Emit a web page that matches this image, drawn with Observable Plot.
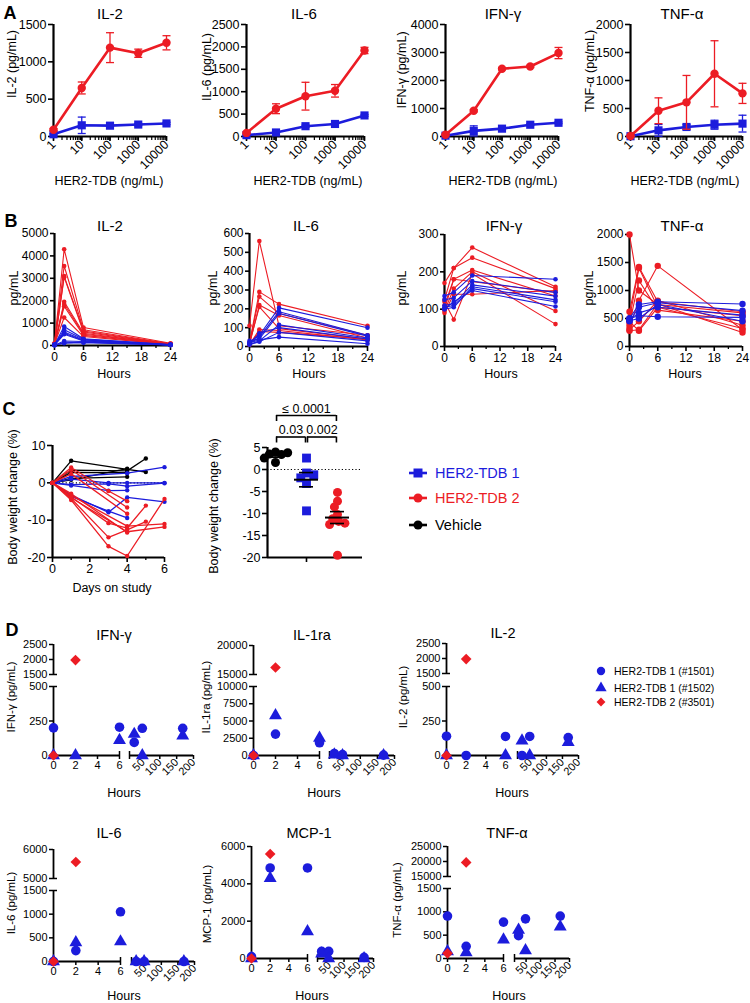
<!DOCTYPE html>
<html><head><meta charset="utf-8">
<script src="https://cdn.jsdelivr.net/npm/d3@7"></script>
<script src="https://cdn.jsdelivr.net/npm/@observablehq/plot@0.6"></script>
<style>
body{margin:0;background:#fff;}
#fig{position:relative;width:750px;height:1003px;overflow:hidden;background:#fff;font-family:"Liberation Sans",Arial,Helvetica,sans-serif;color:#000;}
#fig svg{position:absolute;overflow:visible;max-width:none;}
.t{position:absolute;white-space:nowrap;line-height:1;}
</style></head><body><div id="fig"></div><script>
const RED = "#ec1c24", BLUE = "#1c1cdc", BLACK = "#000000";
const FONT = '"Liberation Sans", Arial, Helvetica, sans-serif';
const fmt = d => String(d);
const noLabel = () => "";

// ---------------- Panel A data ----------------
const aDoses = [1, 10, 100, 1000, 10000];
const aDoseTicks = [1, 10, 100, 1000, 10000];
const aIL2Tdb2 = [90, 650, 1190, 1115, 1255];
const aIL2Tdb2Err = [15, 80, 200, 55, 95];
const aIL2Tdb1 = [30, 150, 145, 160, 175];
const aIL2Tdb1Err = [10, 110, 15, 15, 15];
const aIL6Tdb2 = [80, 620, 900, 1020, 1920];
const aIL6Tdb2Err = [15, 110, 310, 140, 70];
const aIL6Tdb1 = [30, 90, 230, 280, 470];
const aIL6Tdb1Err = [10, 20, 25, 20, 20];
const aIFNTdb2 = [60, 920, 2420, 2500, 2980];
const aIFNTdb2Err = [20, 40, 40, 40, 200];
const aIFNTdb1 = [30, 200, 280, 420, 490];
const aIFNTdb1Err = [10, 180, 30, 30, 30];
const aTNFTdb2 = [10, 460, 610, 1120, 770];
const aTNFTdb2Err = [5, 230, 480, 590, 180];
const aTNFTdb1 = [5, 110, 170, 210, 230];
const aTNFTdb1Err = [3, 105, 40, 80, 150];
const aIL2Ticks = [0, 500, 1000, 1500];
const aIL6Ticks = [0, 500, 1000, 1500, 2000, 2500];
const aIFNTicks = [0, 1000, 2000, 3000, 4000];
const aTNFTicks = [0, 500, 1000, 1500, 2000];

// ---------------- Panel B data ----------------
const bTimes = [0, 2, 6, 24];
const bTicks = [0, 6, 12, 18, 24];
const bMinorTicks = [3, 9, 15, 21];
const bIL2Red = [[100,4300,800,100],[80,3550,700,80],[60,3100,650,60],[50,3050,600,50],[40,1950,550,40],[70,1850,500,60],[30,1750,450,50],[60,1250,400,40]];
const bIL2Blue = [[30,850,300,40],[20,700,280,30],[40,600,250,30],[30,550,220,20],[20,500,200,30],[10,200,180,20],[20,120,150,30],[10,100,120,20]];
const bIL6Red = [[110,560,110,60],[20,290,225,110],[15,265,175,60],[10,220,165,45],[20,210,95,40],[10,90,85,35],[10,80,75,40]];
const bIL6Blue = [[20,60,205,100],[15,50,185,60],[30,40,175,55],[10,30,115,45],[15,70,100,40],[10,25,75,30],[20,35,50,15]];
const bIFNRed = [[170,210,265,160],[125,210,238,155],[100,180,205,135],[95,155,200,95],[120,72,195,60],[90,140,140,150],[110,180,null,145]];
const bIFNBlue = [[135,145,190,180],[125,130,175,145],[110,115,165,135],[100,105,160,125],[105,110,155,120],[100,120,150,107]];
const bTNFRed = [[2000,1000,750,600],[620,1420,800,620],[500,1400,700,550],[400,1180,650,450],[350,820,1440,300],[300,450,820,380],[280,300,760,250],[450,280,700,320]];
const bTNFBlue = [[500,750,800,760],[450,700,780,640],[480,600,700,560],[500,550,530,520],[460,500,750,450]];

// ---------------- Panel C data ----------------
const cDayTicks = [0, 2, 4, 6];
const cDayMinor = [1, 3, 5];
const cLeftYTicks = [-20, -10, 0, 10];
const cVehicleLines = [
  [[0,0],[1,5.9],[4,3.6],[5,2.9]],
  [[0,0],[1,3.4],[4,3.2],[5,6.5]],
  [[0,0],[1,2.8],[4,2.7]],
  [[0,0],[1,0.8],[4,3.8]],
  [[0,0],[1,1.2],[4,1.6]]
];
const cTdb1Lines = [
  [[0,0],[1,1.7],[4,2.6],[6,4.2]],
  [[0,0],[1,1.0],[3,0],[4,0],[6,0]],
  [[0,0],[1,-0.5],[3,-0.3],[4,-0.9],[6,-0.1]],
  [[0,0],[1,-0.7],[3,-2.1],[4,-2.0]],
  [[0,0],[1,-3.3],[3,-7.9],[4,-3.9],[6,-5.1]],
  [[0,0],[1,-3.6],[3,-7.6],[4,-9.4]]
];
const cTdb2Lines = [
  [[0,0],[1,4.1],[3,-2.2],[4,-4.9]],
  [[0,0],[1,3.5],[4,-6.6]],
  [[0,0],[1,2.4],[4,-8.3]],
  [[0,0],[1,-3.8],[3,-10.8],[4,-12.1],[5,-6.1]],
  [[0,0],[1,-4.2],[3,-14.6],[4,-12.6],[5,-10.4]],
  [[0,0],[1,-4.6],[3,-17.0],[4,-19.6],[6,-4.3]],
  [[0,0],[1,-3.4],[4,-11.6],[6,-11.0]],
  [[0,0],[1,-4.0],[4,-13.1],[6,-11.8]],
  [[0,0],[1,-2.9],[4,-13.3]]
];
const cGroups = ["Vehicle", "HER2-TDB 1", "HER2-TDB 2"];
const cVehicleBW = [4.0, 3.5, 3.4, 3.8, 1.6, 2.6];
const cTdb1BW = [2.6, -0.8, -1.9, -1.2, -3.2, -9.4];
const cTdb2BW = [-5.2, -7.2, -8.5, -10.2, -11.2, -11.8, -12.2, -12.5, -19.5];
const cRightYTicks = [-20, -15, -10, -5, 0, 5];
const cBrackets = [
  {a: "Vehicle", b: "HER2-TDB 2", label: "\u2264 0.0001", level: 2},
  {a: "Vehicle", b: "HER2-TDB 1", label: "0.03", level: 1},
  {a: "HER2-TDB 1", b: "HER2-TDB 2", label: "0.002", level: 1}
];
const cLegend = ["HER2-TDB 1", "HER2-TDB 2", "Vehicle"];

// ---------------- Panel D data ----------------
const dTimes = [0, 2, 6, 24, 48, 168];
const dSeries = ["HER2-TDB 1 (#1501)", "HER2-TDB 1 (#1502)", "HER2-TDB 2 (#3501)"];
const dLeftTicks = [0, 2, 4, 6];
const dRightTicks = [50, 100, 150, 200];
const dIFN1501 = [200, null, 205, 95, 197, 197];
const dIFN1502 = [0, 0, 110, 155, 0, 143];
const dIFN3501 = [0, 1980, null, null, null, null];
const dIL1ra1501 = [0, 3100, 1850, 300, 120, 60];
const dIL1ra1502 = [0, 5800, 2550, 100, 0, 0];
const dIL1ra3501 = [0, 16200, null, null, null, null];
const dIL21501 = [140, 0, 138, 0, 138, 130];
const dIL21502 = [0, null, 0, 107, 0, 95];
const dIL23501 = [0, 1980, null, null, null, null];
const dIL61501 = [0, 230, 1050, 0, 0, 0];
const dIL61502 = [0, 400, 420, 0, 0, 0];
const dIL63501 = [0, 5570, null, null, null, null];
const dMCP1501 = [100, 4850, 4850, 380, 380, 60];
const dMCP1502 = [0, 4300, 1450, 250, 0, 0];
const dMCP3501 = [0, 5600, null, null, null, null];
const dTNF1501 = [910, 260, 780, 490, 850, 910];
const dTNF1502 = [150, 130, 400, 610, 170, 680];
const dTNF3501 = [110, 19700, null, null, null, null];

// ---------------- helpers ----------------
const fig = document.getElementById("fig");
function txt(s, x, y, o = {}) {
  const d = document.createElement("div");
  d.className = "t";
  d.textContent = s;
  d.style.left = x + "px"; d.style.top = y + "px";
  d.style.fontSize = (o.size || 12) + "px";
  if (o.weight) d.style.fontWeight = o.weight;
  if (o.color) d.style.color = o.color;
  const tx = o.anchor === "start" ? "0" : "-50%";
  d.style.transform = `translate(${tx},-50%)` + (o.rotate ? ` rotate(${o.rotate}deg)` : "");
  fig.appendChild(d);
}
function place(opts, fr, m, fs = 12) {
  const [x0, x1, y0, y1] = fr;
  const [mt, mr, mb, ml] = m;
  const el = Plot.plot({
    ...opts,
    marks: opts.marks.filter(Boolean),
    width: ml + (x1 - x0) + mr,
    height: mt + (y1 - y0) + mb,
    marginTop: mt, marginRight: mr, marginBottom: mb, marginLeft: ml,
    style: {fontFamily: FONT, fontSize: fs + "px", color: "#000", overflow: "visible", background: "none"}
  });
  el.style.position = "absolute";
  el.style.left = (x0 - ml) + "px";
  el.style.top = (y0 - mt) + "px";
  fig.appendChild(el);
  return el;
}
const capSymbol = {draw(ctx, size) { const w = Math.sqrt(size / Math.PI); ctx.moveTo(-w, 0); ctx.lineTo(w, 0); }};

// ---------------- Panel A ----------------
function panelA(sp) {
  const mk = (vals, errs) => aDoses.map((d, i) => ({dose: d, v: vals[i], lo: vals[i] - errs[i], hi: vals[i] + errs[i]}));
  const R = mk(sp.red, sp.redErr), B = mk(sp.blue, sp.blueErr);
  const minor = d3.scaleLog().domain([1, 10000]).ticks();
  const series = (D, color, symbol, r) => [
    Plot.ruleX(D, {x: "dose", y1: "lo", y2: "hi", stroke: color, strokeWidth: 1.3}),
    Plot.dot(D, {x: "dose", y: "lo", symbol: capSymbol, r: 4, stroke: color, fill: "none", strokeWidth: 1.3}),
    Plot.dot(D, {x: "dose", y: "hi", symbol: capSymbol, r: 4, stroke: color, fill: "none", strokeWidth: 1.3}),
    Plot.line(D, {x: "dose", y: "v", stroke: color, strokeWidth: 2.6}),
    Plot.dot(D, {x: "dose", y: "v", symbol, r, fill: color})
  ];
  place({
    x: {type: "log", domain: [1, 10000]},
    y: {domain: [0, sp.yMax], label: null},
    marks: [
      Plot.axisX({ticks: minor, tickSize: 4, tickFormat: noLabel, strokeWidth: 1.2, label: null}),
      Plot.axisX({ticks: aDoseTicks, tickSize: 5, tickPadding: 1, tickRotate: -45, tickFormat: fmt, strokeWidth: 1.6, label: null}),
      Plot.axisY({ticks: sp.yTicks, tickSize: 5, tickPadding: 2, tickFormat: fmt, strokeWidth: 1.6, label: null}),
      Plot.ruleY([0], {strokeWidth: 2.2}),
      Plot.ruleX([1], {strokeWidth: 2.2}),
      ...series(B, BLUE, "square", 4.6),
      ...series(R, RED, "circle", 4.2)
    ]
  }, sp.frame, [6, 8, 40, 44], 12.5);
  txt(sp.title, sp.tx, 13, {size: 15});
  txt(sp.ylab, sp.ylx, sp.yly, {size: 12.5, rotate: -90});
  txt("HER2-TDB (ng/mL)", sp.xlx, 181, {size: 12.5});
}
panelA({title: "IL-2", ylab: "IL-2 (pg/mL)", frame: [53, 166, 24, 136], yMax: 1500, yTicks: aIL2Ticks, red: aIL2Tdb2, redErr: aIL2Tdb2Err, blue: aIL2Tdb1, blueErr: aIL2Tdb1Err, tx: 110, ylx: 12, yly: 64, xlx: 109});
panelA({title: "IL-6", ylab: "IL-6 (pg/mL)", frame: [246, 364, 24, 136], yMax: 2500, yTicks: aIL6Ticks, red: aIL6Tdb2, redErr: aIL6Tdb2Err, blue: aIL6Tdb1, blueErr: aIL6Tdb1Err, tx: 304, ylx: 207, yly: 67, xlx: 308});
panelA({title: "IFN-\u03b3", ylab: "IFN-\u03b3 (pg/mL)", frame: [445, 558, 24, 136], yMax: 4000, yTicks: aIFNTicks, red: aIFNTdb2, redErr: aIFNTdb2Err, blue: aIFNTdb1, blueErr: aIFNTdb1Err, tx: 503, ylx: 402, yly: 70, xlx: 503});
panelA({title: "TNF-\u03b1", ylab: "TNF-\u03b1 (pg/mL)", frame: [630, 742, 24, 136], yMax: 2000, yTicks: aTNFTicks, red: aTNFTdb2, redErr: aTNFTdb2Err, blue: aTNFTdb1, blueErr: aTNFTdb1Err, tx: 682, ylx: 590, yly: 71, xlx: 685});

// ---------------- Panel B ----------------
function panelB(sp) {
  const toRows = (lines, tag) => lines.flatMap((vals, k) => vals.map((v, i) => ({id: tag + k, t: bTimes[i], v})).filter(r => r.v != null));
  const R = toRows(sp.red, "r"), B = toRows(sp.blue, "b");
  place({
    x: {domain: [0, 24]},
    y: {domain: [0, sp.yMax], label: null},
    marks: [
      Plot.axisY({ticks: sp.yTicks, tickSize: 4, tickPadding: 2, tickFormat: fmt, strokeWidth: 1.6, label: null}),
      Plot.axisX({ticks: bMinorTicks, tickSize: 3, tickFormat: noLabel, strokeWidth: 1.3, label: null}),
      Plot.axisX({ticks: bTicks, tickSize: 5, tickPadding: 2, tickFormat: fmt, strokeWidth: 1.6, label: null}),
      Plot.ruleX([0], {strokeWidth: 2.2}),
      Plot.ruleY([0], {strokeWidth: 2.2}),
      Plot.line(R, {x: "t", y: "v", z: "id", stroke: RED, strokeWidth: 1.1}),
      Plot.dot(R, {x: "t", y: "v", r: sp.r, fill: RED}),
      Plot.line(B, {x: "t", y: "v", z: "id", stroke: BLUE, strokeWidth: 1.1}),
      Plot.dot(B, {x: "t", y: "v", r: sp.r, fill: BLUE})
    ]
  }, sp.frame, [6, 8, 30, 44], 12);
  txt(sp.title, sp.tx, 225, {size: 15});
  txt("pg/mL", sp.ylx, 288, {size: 12.5, rotate: -90});
  txt("Hours", sp.xlx, 374, {size: 12.5});
}
panelB({title: "IL-2", frame: [54, 170, 233, 345], yMax: 5000, yTicks: [0,1000,2000,3000,4000,5000], red: bIL2Red, blue: bIL2Blue, r: 2.3, tx: 110, ylx: 14, xlx: 114});
panelB({title: "IL-6", frame: [249, 367, 233, 346], yMax: 600, yTicks: [0,100,200,300,400,500,600], red: bIL6Red, blue: bIL6Blue, r: 2.3, tx: 306, ylx: 213, xlx: 309});
panelB({title: "IFN-\u03b3", frame: [444, 555, 234, 346], yMax: 300, yTicks: [0,100,200,300], red: bIFNRed, blue: bIFNBlue, r: 2.3, tx: 504, ylx: 402, xlx: 501});
panelB({title: "TNF-\u03b1", frame: [629, 742, 234, 346], yMax: 2000, yTicks: [0,500,1000,1500,2000], red: bTNFRed, blue: bTNFBlue, r: 3.2, tx: 682, ylx: 589, xlx: 685});

// ---------------- Panel C ----------------
(function panelCLeft() {
  const toRows = (lines, tag) => lines.flatMap((pts, k) => pts.map(([d, v]) => ({id: tag + k, d, v})));
  const V = toRows(cVehicleLines, "v"), B = toRows(cTdb1Lines, "b"), R = toRows(cTdb2Lines, "r");
  place({
    x: {domain: [0, 6]},
    y: {domain: [-20, 10], label: null},
    marks: [
      Plot.ruleY([0], {strokeWidth: 1.3, strokeDasharray: "1.2,2.2"}),
      Plot.axisY({ticks: cLeftYTicks, tickSize: 5, tickPadding: 2, tickFormat: fmt, strokeWidth: 1.6, label: null}),
      Plot.axisX({ticks: cDayMinor, tickSize: 3, tickFormat: noLabel, strokeWidth: 1.3, label: null}),
      Plot.axisX({ticks: cDayTicks, tickSize: 5, tickPadding: 2, tickFormat: fmt, strokeWidth: 1.6, label: null}),
      Plot.ruleX([0], {strokeWidth: 2.2}),
      Plot.ruleY([-20], {strokeWidth: 2.2}),
      Plot.line(V, {x: "d", y: "v", z: "id", stroke: BLACK, strokeWidth: 1.3}),
      Plot.dot(V, {x: "d", y: "v", r: 2.2, fill: BLACK}),
      Plot.line(B, {x: "d", y: "v", z: "id", stroke: BLUE, strokeWidth: 1.3}),
      Plot.dot(B, {x: "d", y: "v", r: 2.2, fill: BLUE}),
      Plot.line(R, {x: "d", y: "v", z: "id", stroke: RED, strokeWidth: 1.3}),
      Plot.dot(R, {x: "d", y: "v", r: 2.2, fill: RED})
    ]
  }, [52, 164, 445, 557], [6, 8, 30, 44], 12.5);
  txt("Body weight change (%)", 13, 497, {size: 12.5, rotate: -90});
  txt("Days on study", 112, 588, {size: 12.5});
})();

(function panelCRight() {
  const fr = [267, 362, 447, 557];
  const xDomain = [0.74, 3.81];
  const idx = g => cGroups.indexOf(g) + 1;
  place({
    x: {domain: xDomain},
    y: {domain: [-20, 5], label: null},
    marks: [
      Plot.ruleY([0], {strokeWidth: 1.2, strokeDasharray: "1.2,2.2"}),
      Plot.axisY({ticks: cRightYTicks, tickSize: 5, tickPadding: 2, tickFormat: fmt, strokeWidth: 1.6, label: null}),
      Plot.axisX({ticks: [idx("HER2-TDB 1")], tickSize: 5, tickFormat: noLabel, strokeWidth: 1.6, label: null}),
      Plot.ruleX([xDomain[0]], {strokeWidth: 2.2}),
      Plot.ruleY([-20], {strokeWidth: 2.2})
    ]
  }, fr, [6, 8, 30, 44], 12.5);
  // significance brackets
  place({
    x: {domain: xDomain, axis: null},
    y: {domain: [1, 2], axis: null},
    marks: [
      Plot.ruleY(cBrackets, {x1: d => idx(d.a), x2: d => idx(d.b), y: "level", insetLeft: 1, insetRight: 1, strokeWidth: 1.6}),
      Plot.ruleX(cBrackets, {x: d => idx(d.a), y1: "level", y2: "level", insetBottom: -6, dx: 1, strokeWidth: 1.6}),
      Plot.ruleX(cBrackets, {x: d => idx(d.b), y1: "level", y2: "level", insetBottom: -6, dx: -1, strokeWidth: 1.6}),
      Plot.text(cBrackets, {x: d => (idx(d.a) + idx(d.b)) / 2, y: "level", text: "label", lineAnchor: "bottom", dy: -3})
    ]
  }, [fr[0], fr[1], 415, 436.5], [20, 8, 10, 44], 12.5);
  const xs = d3.scaleLinear(xDomain, [fr[0], fr[1]]);
  const groups = [[cVehicleBW, BLACK, "circle", 4.5], [cTdb1BW, BLUE, "square", 5], [cTdb2BW, RED, "circle", 4.5]];
  groups.forEach(([vals, color, symbol, r], i) => {
    const mean = d3.mean(vals), sem = d3.deviation(vals) / Math.sqrt(vals.length);
    const stat = [{mean, lo: mean - sem, hi: mean + sem}];
    const cx = xs(i + 1);
    place({
      y: {domain: [-20, 5], axis: null},
      marks: [
        Plot.dot(vals.map(v => ({v})), Plot.dodgeX({anchor: "middle", padding: -2.5}, {y: "v", r, fill: color, symbol})),
        Plot.ruleX(stat, {y1: "lo", y2: "hi", strokeWidth: 1.6}),
        Plot.tickY(stat, {y: "mean", insetLeft: 4, insetRight: 4, strokeWidth: 2}),
        Plot.tickY(stat, {y: "lo", insetLeft: 9, insetRight: 9, strokeWidth: 1.6}),
        Plot.tickY(stat, {y: "hi", insetLeft: 9, insetRight: 9, strokeWidth: 1.6})
      ]
    }, [cx - 16, cx + 16, fr[2], fr[3]], [0, 0, 0, 0], 12);
  });
  txt("Body weight change (%)", 214, 506, {size: 12.5, rotate: -90});
})();

// C legend
(function () {
  const syms = [[BLUE, d3.symbolSquare, 81], [RED, d3.symbolCircle, 64], [BLACK, d3.symbolCircle, 64]];
  const ys = [473, 498, 525];
  cLegend.forEach((name, i) => {
    const [color, type, size] = syms[i];
    const svg = d3.create("svg").attr("width", 24).attr("height", 16)
      .style("left", (418 - 12) + "px").style("top", (ys[i] - 8) + "px");
    svg.append("line").attr("x1", 3).attr("x2", 21).attr("y1", 8).attr("y2", 8).attr("stroke", color).attr("stroke-width", 2.6);
    svg.append("path").attr("d", d3.symbol(type, size)()).attr("transform", "translate(12,8)").attr("fill", color);
    fig.appendChild(svg.node());
    txt(name, 435, ys[i], {size: 14.5, color, anchor: "start"});
  });
})();

// ---------------- Panel D ----------------
function panelD(sp) {
  const rows = [];
  [sp.c, sp.t, sp.d].forEach((vals, k) => vals.forEach((v, i) => { if (v != null) rows.push({id: dSeries[k], time: dTimes[i], v}); }));
  const symbol = {domain: dSeries, range: ["circle", "triangle", "diamond2"]};
  const color = {domain: dSeries, range: [BLUE, BLUE, RED]};
  const dots = data => Plot.dot(data, {x: "time", y: "v", symbol: "id", fill: "id", r: 4.8});
  const L = rows.filter(r => r.time <= 6), R = rows.filter(r => r.time > 6);
  const lowMax = sp.lower.domain[1];
  const ax = {strokeWidth: 1.5, label: null};
  // lower-left
  place({
    x: {domain: [0, 6]}, y: {domain: sp.lower.domain, label: null}, symbol, color,
    marks: [
      Plot.axisY({...ax, ticks: sp.lower.ticks, tickSize: 4, tickPadding: 2, tickFormat: fmt}),
      sp.upper ? Plot.axisY({...ax, ticks: [lowMax], tickSize: -4, tickFormat: noLabel}) : null,
      Plot.axisX({...ax, ticks: dLeftTicks, tickSize: 4, tickPadding: 2, tickFormat: fmt}),
      Plot.axisX({...ax, ticks: [6], tickSize: -4, tickFormat: noLabel}),
      Plot.ruleX([0], {strokeWidth: 1.8}),
      Plot.ruleY([0], {strokeWidth: 1.8}),
      dots(L.filter(r => r.v <= lowMax))
    ]
  }, [sp.left[0], sp.left[1], sp.lower.y[0], sp.lower.y[1]], [4, 4, 26, 36], 11);
  // lower-right
  place({
    x: {domain: [10, 200]}, y: {domain: sp.lower.domain, axis: null}, symbol, color,
    marks: [
      Plot.axisX({...ax, ticks: dRightTicks, tickSize: 4, tickPadding: 1, tickRotate: -45, tickFormat: fmt}),
      Plot.axisX({...ax, ticks: [10], tickSize: 4, tickFormat: noLabel}),
      Plot.axisX({...ax, ticks: [10], tickSize: -4, tickFormat: noLabel}),
      Plot.ruleY([0], {strokeWidth: 1.8}),
      dots(R.filter(r => r.v <= lowMax))
    ]
  }, [sp.right[0], sp.right[1], sp.lower.y[0], sp.lower.y[1]], [4, 6, 26, 4], 11);
  // upper-left
  if (sp.upper) {
    place({
      x: {domain: [0, 6], axis: null}, y: {domain: sp.upper.domain, label: null}, symbol, color,
      marks: [
        Plot.axisY({...ax, ticks: sp.upper.ticks, tickSize: 4, tickPadding: 2, tickFormat: fmt}),
        Plot.axisY({...ax, ticks: [sp.upper.domain[0]], tickSize: -4, tickFormat: noLabel}),
        Plot.ruleX([0], {strokeWidth: 1.8}),
        dots(L.filter(r => r.v >= sp.upper.domain[0]))
      ]
    }, [sp.left[0], sp.left[1], sp.upper.y[0], sp.upper.y[1]], [4, 4, 4, 36], 11);
  }
  txt(sp.title, sp.tx, sp.ty, {size: 14.5});
  txt(sp.ylab, sp.ylx, sp.yly, {size: 11.5, rotate: -90});
  txt("Hours", sp.hx, sp.hy, {size: 12.5});
}
panelD({title: "IFN-\u03b3", ylab: "IFN-\u03b3 (pg/mL)", c: dIFN1501, t: dIFN1502, d: dIFN3501,
  left: [53, 119], right: [129, 193],
  upper: {y: [644, 674], domain: [1500, 2500], ticks: [1500, 2000, 2500]},
  lower: {y: [686, 755], domain: [0, 500], ticks: [0, 250, 500]},
  tx: 114, ty: 635, ylx: 12, yly: 697, hx: 124, hy: 793});
panelD({title: "IL-1ra", ylab: "IL-1ra (pg/mL)", c: dIL1ra1501, t: dIL1ra1502, d: dIL1ra3501,
  left: [253, 319], right: [329, 394],
  upper: {y: [645, 674], domain: [15000, 20000], ticks: [15000, 20000]},
  lower: {y: [686, 755], domain: [0, 10000], ticks: [0, 2500, 5000, 7500, 10000]},
  tx: 312, ty: 635, ylx: 207, yly: 697, hx: 324, hy: 793});
panelD({title: "IL-2", ylab: "IL-2 (pg/mL)", c: dIL21501, t: dIL21502, d: dIL23501,
  left: [446, 505], right: [517, 578],
  upper: {y: [643, 673], domain: [1500, 2500], ticks: [1500, 2000, 2500]},
  lower: {y: [686, 755], domain: [0, 500], ticks: [0, 250, 500]},
  tx: 503, ty: 633, ylx: 404, yly: 697, hx: 512, hy: 793});
panelD({title: "IL-6", ylab: "IL-6 (pg/mL)", c: dIL61501, t: dIL61502, d: dIL63501,
  left: [53, 120], right: [131, 194],
  upper: {y: [849, 878], domain: [5000, 6000], ticks: [5000, 6000]},
  lower: {y: [890, 961], domain: [0, 1500], ticks: [0, 500, 1000, 1500]},
  tx: 109, ty: 833, ylx: 12, yly: 903, hx: 124, hy: 996});
panelD({title: "MCP-1", ylab: "MCP-1 (pg/mL)", c: dMCP1501, t: dMCP1502, d: dMCP3501,
  left: [251, 307], right: [317, 373],
  upper: null,
  lower: {y: [846, 958], domain: [0, 6000], ticks: [0, 2000, 4000, 6000]},
  tx: 309, ty: 833, ylx: 208, yly: 904, hx: 312, hy: 996});
panelD({title: "TNF-\u03b1", ylab: "TNF-\u03b1 (pg/mL)", c: dTNF1501, t: dTNF1502, d: dTNF3501,
  left: [447, 503], right: [514, 569],
  upper: {y: [846, 876], domain: [15000, 25000], ticks: [15000, 20000, 25000]},
  lower: {y: [888, 958], domain: [0, 1500], ticks: [0, 500, 1000, 1500]},
  tx: 507, ty: 833, ylx: 398, yly: 900, hx: 509, hy: 996});

// D legend
(function () {
  const syms = [[BLUE, d3.symbolCircle, 55], [BLUE, d3.symbolTriangle, 55], [RED, d3.symbolDiamond2, 50]];
  const ys = [671, 688, 702];
  dSeries.forEach((name, i) => {
    const [color, type, size] = syms[i];
    const svg = d3.create("svg").attr("width", 16).attr("height", 16)
      .style("left", (601 - 8) + "px").style("top", (ys[i] - 8) + "px");
    svg.append("path").attr("d", d3.symbol(type, size)()).attr("transform", "translate(8,8)").attr("fill", color);
    fig.appendChild(svg.node());
    txt(name, 614, ys[i], {size: 10.5, anchor: "start"});
  });
})();

// panel letters
txt("A", 10, 13, {size: 18, weight: "bold"});
txt("B", 11, 221, {size: 18, weight: "bold"});
txt("C", 9, 409, {size: 18, weight: "bold"});
txt("D", 12, 630, {size: 18, weight: "bold"});
</script></body></html>
